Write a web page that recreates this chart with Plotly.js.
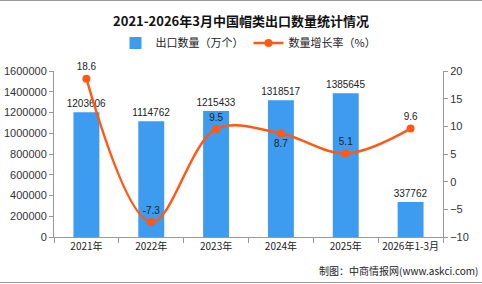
<!DOCTYPE html>
<html><head><meta charset="utf-8">
<script src="https://cdn.plot.ly/plotly-3.0.1.min.js"></script>
<style>html,body{margin:0;padding:0;background:#fff;}#c{width:482px;height:284px;}</style>
</head><body><div id="c"></div>
<script>
const categories = ["2021年","2022年","2023年","2024年","2025年","2026年1-3月"];
const exportQty = [1203606,1114762,1215433,1318517,1385645,337762];
const growthRate = [18.6,-7.3,9.5,8.7,5.1,9.6];
const growthPos = ["top center","top center","top center","bottom center","top center","top center"];

const F = "Liberation Sans, Noto Sans CJK SC, sans-serif";
const CJK = "Noto Sans CJK SC, sans-serif";

const data = [
  {type:"bar", name:"出口数量（万个）", x:categories, y:exportQty,
   marker:{color:"#3d9bf0"}, text:exportQty.map(String), textposition:"outside", constraintext:"none",
   cliponaxis:false, textfont:{family:F,size:10,color:"#222"}},
  {type:"scatter", mode:"lines+markers+text", name:"数量增长率（%）", x:categories, y:growthRate, yaxis:"y2",
   line:{color:"#ff5a14",width:2.5,shape:"spline",smoothing:1}, marker:{color:"#ff5a14",size:8},
   text:growthRate.map(v=>v.toFixed(1)), textposition:growthPos, cliponaxis:false,
   textfont:{family:F,size:10,color:"#222"}}
];

const layout = {
  width:482, height:284, margin:{l:54,r:39,t:71,b:47},
  paper_bgcolor:"#fff", plot_bgcolor:"#fff", bargap:0.6, showlegend:true,
  title:{text:"<b>2021-2026年3月中国帽类出口数量统计情况</b>", x:0.5, xanchor:"center", y:0.925, yanchor:"middle", font:{family:CJK,size:13,color:"#111"}},
  legend:{orientation:"h", x:0.5, xanchor:"center", y:(237-43)/166, yanchor:"middle", font:{family:CJK,size:11,color:"#222"}, itemwidth:30, tracegroupgap:0},
  xaxis:{type:"category", tickson:"boundaries", ticks:"outside", ticklen:5, tickcolor:"#999", showline:true, linecolor:"#999", linewidth:1,
    tickangle:0, tickfont:{family:CJK,size:10,color:"#222"}, showgrid:false},
  yaxis:{range:[0,1600000], dtick:200000, tickformat:"d", ticks:"outside", ticklen:4, tickcolor:"#999", showline:true, linecolor:"#999", showgrid:false, zeroline:false,
    tickfont:{family:F,size:11,color:"#333"}},
  yaxis2:{overlaying:"y", side:"right", range:[-10,20], dtick:5, ticks:"outside", ticklen:4, tickcolor:"#999", showline:true, linecolor:"#999", showgrid:false, zeroline:false,
    tickfont:{family:F,size:11,color:"#333"}},
  annotations:[{xref:"paper", yref:"paper", x:(480-54)/389, y:(237-270)/166, xanchor:"right", yanchor:"middle", showarrow:false,
    text:"制图：中商情报网(www.askci.com)", font:{family:CJK,size:10,color:"#222"}}],
  shapes:[
    {type:"line", xref:"paper", yref:"paper", x0:-0.2, x1:1.2, y0:(237-0.5)/166, y1:(237-0.5)/166, line:{color:"#999",width:1}},
    {type:"line", xref:"paper", yref:"paper", x0:-0.2, x1:1.2, y0:(237-282.5)/166, y1:(237-282.5)/166, line:{color:"#999",width:1}}
  ]
};
Plotly.newPlot("c", data, layout, {displayModeBar:false, staticPlot:true});
</script></body></html>
